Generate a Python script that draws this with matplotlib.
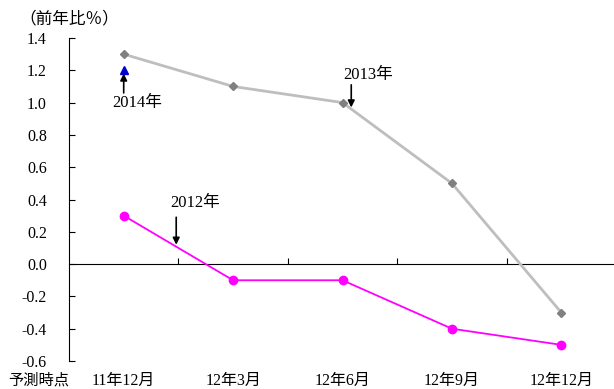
import matplotlib
matplotlib.use("Agg")
import matplotlib.pyplot as plt

# data
periods = ["11年12月", "12年3月", "12年6月", "12年9月", "12年12月"]
fc_2013 = [1.3, 1.1, 1.0, 0.5, -0.3]
fc_2012 = [0.3, -0.1, -0.1, -0.4, -0.5]
fc_2014 = [1.2]
y_ticks = [1.4, 1.2, 1.0, 0.8, 0.6, 0.4, 0.2, 0.0, -0.2, -0.4, -0.6]
y_labels = ["1.4", "1.2", "1.0", "0.8", "0.6", "0.4", "0.2", "0.0", "-0.2", "-0.4", "-0.6"]

plt.rcParams['font.family'] = ['Liberation Serif', 'Noto Sans CJK JP']
plt.rcParams['font.size'] = 11


def main():
    fig = plt.figure(figsize=(6.14, 3.89), dpi=100)
    ax = fig.add_axes([69 / 614, 28 / 389, 547 / 614, 323 / 389])

    x = list(range(len(periods)))
    ax.plot(x, fc_2013, color="#BEBEBE", lw=2, marker="D", ms=4.5,
            mfc="#808080", mec="#808080", zorder=3)
    ax.plot(x, fc_2012, color="#FF00FF", lw=1.3, marker="o", ms=6,
            mfc="#FF00FF", mec="#FF00FF", zorder=3)
    ax.plot(x[:len(fc_2014)], fc_2014, ls="none", marker="^", ms=6,
            color="#0000CC", zorder=4)

    ax.set_xlim(-0.5, len(periods) - 0.5)
    ax.set_ylim(-0.6, 1.4)

    # axes: left spine and zero line with inward ticks
    ax.spines["top"].set_visible(False)
    ax.spines["right"].set_visible(False)
    ax.spines["bottom"].set_position(("data", 0))

    ax.set_yticks(y_ticks)
    ax.set_yticklabels(y_labels)
    ax.tick_params(axis="y", direction="in", length=4, pad=16, labelsize=11.5)
    ax.set_xticks([i + 0.5 for i in x[:-1]])
    ax.set_xticklabels([])
    ax.tick_params(axis="x", direction="in", length=4)

    # category labels below the plot
    for i, p in enumerate(periods):
        ax.annotate(p, xy=(i, -0.6), xytext=(0, -14),
                    textcoords="offset points", ha="center", va="center",
                    fontsize=11.5, annotation_clip=False)
    ax.annotate("予測時点", xy=(-0.78, -0.6), xytext=(0, -14),
                textcoords="offset points", ha="center", va="center",
                fontsize=11, annotation_clip=False)

    fig.text(19 / 614, 1 - 19 / 389, "（前年比％）", ha="left", va="center",
             fontsize=12)

    arrow = dict(arrowstyle="-|>", color="black", lw=1.2, mutation_scale=10,
                 shrinkA=0, shrinkB=0)
    ax.annotate("", xy=(0, 1.18), xytext=(0, 1.06), arrowprops=arrow)
    ax.text(0.12, 1.0, "2014年", ha="center", va="center", fontsize=12)
    ax.annotate("", xy=(2.08, 0.97), xytext=(2.08, 1.11), arrowprops=arrow)
    ax.text(2.23, 1.17, "2013年", ha="center", va="center", fontsize=12)
    ax.annotate("", xy=(0.48, 0.12), xytext=(0.48, 0.29), arrowprops=arrow)
    ax.text(0.65, 0.38, "2012年", ha="center", va="center", fontsize=12)

    fig.savefig("out.png", dpi=100)


if __name__ == "__main__":
    main()
